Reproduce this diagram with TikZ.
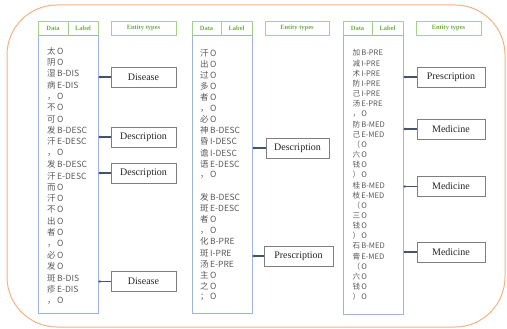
\documentclass[tikz,border=0pt]{standalone}
\usepackage{fontspec}
\setmainfont{Liberation Serif}
\newfontfamily\cjk{Noto Sans CJK SC}
\usetikzlibrary{arrows.meta}
\definecolor{orng}{HTML}{F4B183}
\definecolor{hgreen}{HTML}{A9D18E}
\definecolor{tgreen}{HTML}{70AD47}
\definecolor{dblue}{HTML}{9DB5E0}
\definecolor{egray}{HTML}{7F7F7F}
\definecolor{etext}{HTML}{262626}
\definecolor{rtext}{HTML}{595959}
\definecolor{conncol}{HTML}{44546A}
\begin{document}
\begin{tikzpicture}[x=1pt,y=-1pt,
  hdr/.style={draw=hgreen,line width=0.8pt,text=tgreen,font=\fontsize{6.5}{7}\selectfont\bfseries,minimum height=14pt,inner sep=0pt},
  dbox/.style={draw=dblue,line width=0.8pt,inner sep=0pt},
  ebox/.style={draw=egray,line width=0.6pt,fill=white,text=etext,font=\fontsize{10}{12}\selectfont,minimum height=20pt,inner sep=0pt},
  conn/.style={draw=conncol,line width=1.6pt,-{Stealth[length=2pt,width=3pt]}},
  rowa/.style={anchor=west,inner sep=0pt,text=rtext,font=\cjk\fontsize{8.5}{9}\selectfont},
  rowc/.style={anchor=west,inner sep=0pt,text=rtext,font=\cjk\fontsize{7.6}{8}\selectfont}]
\useasboundingbox (0,0) rectangle (507,329);
\draw[orng,line width=1pt,rounded corners=50pt] (7,5) rectangle (505,327);

% headers
\node[hdr,minimum width=30pt] (h1d) at (53,28) {Data};
\node[hdr,minimum width=30pt] (h1l) at (83,28) {Label};
\node[hdr,minimum width=65pt] (h1e) at (143.5,28) {Entity types};
\node[hdr,minimum width=29pt] (h2d) at (206.5,28) {Data};
\node[hdr,minimum width=31pt] (h2l) at (236.5,28) {Label};
\node[hdr,minimum width=64pt] (h2e) at (297,28) {Entity types};
\node[hdr,minimum width=29pt] (h3d) at (357.5,28) {Data};
\node[hdr,minimum width=31pt] (h3l) at (387.5,28) {Label};
\node[hdr,minimum width=65pt] (h3e) at (448.5,28) {Entity types};

% data boxes
\node[dbox,minimum width=60pt,minimum height=278pt] (d1) at (68,174) {};
\node[dbox,minimum width=60pt,minimum height=278pt] (d2) at (222,174) {};
\node[dbox,minimum width=60pt,minimum height=279pt] (d3) at (373,174.5) {};

% rows column 1
\foreach \c/\l [count=\i from 0] in {太/O,阴/O,湿/B-DIS,病/E-DIS,，/O,不/O,可/O,发/B-DESC,汗/E-DESC,，/O,发/B-DESC,汗/E-DESC,而/O,汗/O,不/O,出/O,者/O,，/O,必/O,发/O,斑/B-DIS,疹/E-DIS,，/O}
  \node[rowa] (ra\i) at (47,51+\i*11.35) {\c\hspace{1.5pt}\l};

% rows column 2
\foreach \i/\c/\l in {0/汗/O,1/出/O,2/过/O,3/多/O,4/者/O,5/，/O,6/必/O,7/神/B-DESC,8/昏/I-DESC,9/谵/I-DESC,10/语/E-DESC,11/，/O,13/发/B-DESC,14/斑/E-DESC,15/者/O,16/，/O,17/化/B-PRE,18/斑/I-PRE,19/汤/E-PRE,20/主/O,21/之/O,22/；/O}
  \node[rowa] (rb\i) at (200,53+\i*11.1) {\c\hspace{1.5pt}\l};

% rows column 3
\foreach \c/\l [count=\i from 0] in {加/B-PRE,减/I-PRE,术/I-PRE,防/I-PRE,己/I-PRE,汤/E-PRE,，/O,防/B-MED,己/E-MED,（/O,六/O,钱/O,）/O,桂/B-MED,枝/E-MED,（/O,三/O,钱/O,）/O,石/B-MED,膏/E-MED,（/O,六/O,钱/O,）/O}
  \node[rowc] (rc\i) at (352.5,53+\i*10.17) {\c\hspace{1pt}\l};

% entity boxes
\node[ebox,minimum width=65pt] (e11) at (143.5,77) {Disease};
\node[ebox,minimum width=65pt] (e12) at (143.5,137) {Description};
\node[ebox,minimum width=65pt] (e13) at (143.5,173) {Description};
\node[ebox,minimum width=65pt] (e14) at (143.5,281.5) {Disease};
\node[ebox,minimum width=63pt] (e21) at (297.5,148) {Description};
\node[ebox,minimum width=69pt] (e22) at (298.5,256) {Prescription};
\node[ebox,minimum width=68pt] (e31) at (451,77) {Prescription};
\node[ebox,minimum width=68pt] (e32) at (451,129) {Medicine};
\node[ebox,minimum width=68pt] (e33) at (451,186.5) {Medicine};
\node[ebox,minimum width=68pt] (e34) at (451,252) {Medicine};

% connectors
\foreach \e/\d in {e11/d1,e12/d1,e13/d1,e14/d1,e21/d2,e22/d2,e31/d3,e32/d3,e33/d3,e34/d3}
  \draw[conn] (\e.west) -- (\e.west -| \d.east);
\end{tikzpicture}
\end{document}
